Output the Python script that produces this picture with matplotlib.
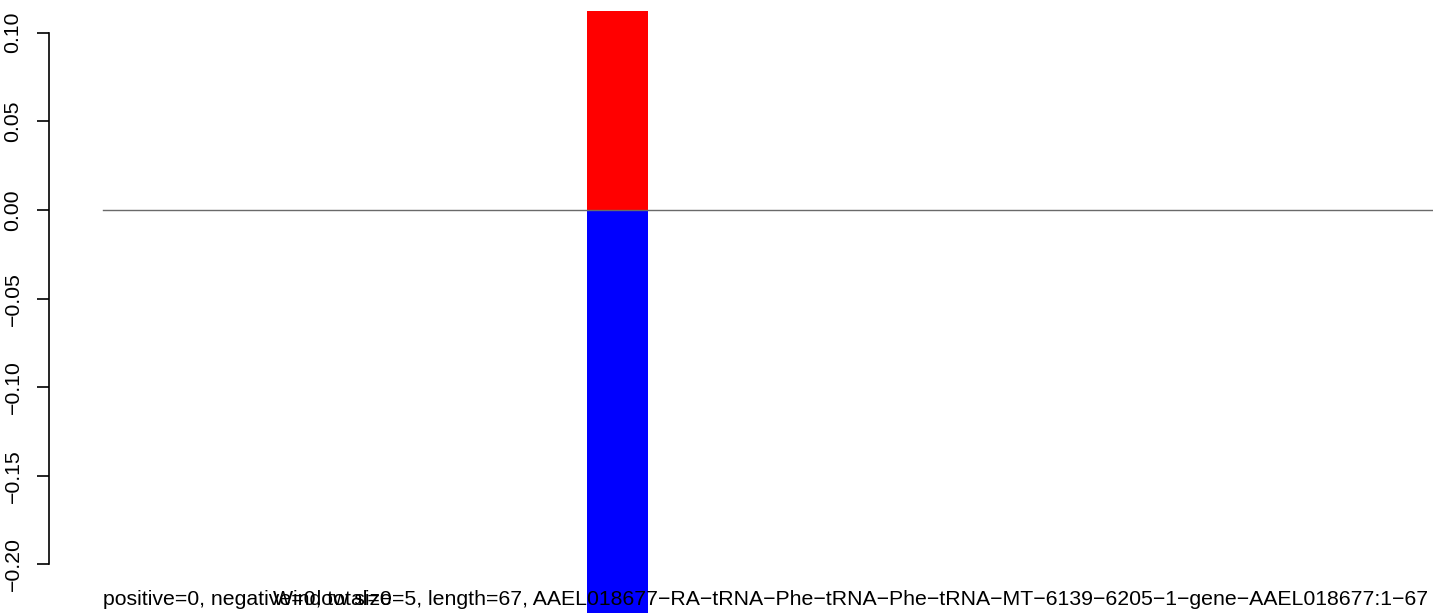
import matplotlib
matplotlib.use("Agg")
import matplotlib.pyplot as plt

# ---- data ----
bar_positions = [25.92]
bar_width = 3.07
positive_values = [0.1123]
negative_values = [-0.25]
y_ticks = [-0.20, -0.15, -0.10, -0.05, 0.00, 0.05, 0.10]
y_tick_labels = ["\u22120.20", "\u22120.15", "\u22120.10", "\u22120.05", "0.00", "0.05", "0.10"]
seq_length = 67
left_note = "positive=0, negative=0, total=0"
title_note = ("Window size=5, length=67, AAEL018677\u2212RA\u2212tRNA\u2212Phe\u2212tRNA\u2212Phe\u2212tRNA\u2212MT"
              "\u22126139\u22126205\u22121\u2212gene\u2212AAEL018677:1\u221267")

plt.rcParams['font.family'] = ['Liberation Sans', 'DejaVu Sans']

W, H = 1433, 613
fig = plt.figure(figsize=(W / 100, H / 100), dpi=100)
ax_left_px = 49
ax = fig.add_axes([ax_left_px / W, 0, (W - ax_left_px) / W, 1])

px_per_unit = (1433 - 103) / seq_length
ax.set_xlim(-(103 - ax_left_px) / px_per_unit, seq_length)
ax.set_ylim(-403 / 1772, 210 / 1772)

ax.bar(bar_positions, positive_values, width=bar_width, color="#FF0000", linewidth=0)
ax.bar(bar_positions, negative_values, width=bar_width, color="#0000FF", linewidth=0)
ax.plot([0, seq_length], [0, 0], color="#6a6a6a", linewidth=1.0, zorder=3)

for s in ["top", "right", "bottom"]:
    ax.spines[s].set_visible(False)
ax.spines["left"].set_bounds(-0.20, 0.10)
ax.spines["left"].set_linewidth(1.2)
ax.set_xticks([])
ax.set_yticks(y_ticks)
ax.set_yticklabels(y_tick_labels, rotation=90, va="center", fontsize=15.3)
ax.tick_params(axis="y", length=8.6, width=1.2, pad=10.5)

fs = 15.3
fig.text(103 / W, 1 - 605 / H, left_note, ha="left", va="baseline", fontsize=fs)
fig.text(850.5 / W, 1 - 605 / H, title_note, ha="center", va="baseline", fontsize=fs)

fig.savefig("out.png", dpi=100)
